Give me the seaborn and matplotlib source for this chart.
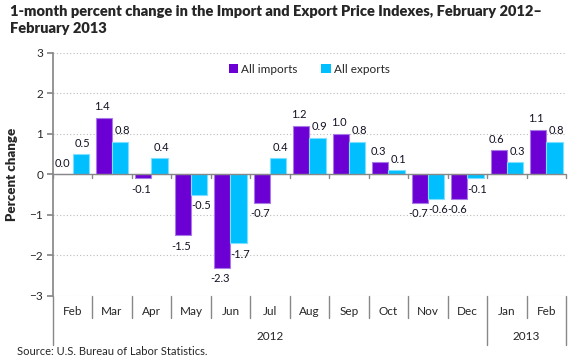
import pandas as pd
import numpy as np
import matplotlib.pyplot as plt
import seaborn as sns

sns.set_theme(style="white")
plt.rcParams['font.family'] = ['Lato', 'DejaVu Sans']

months = ['Feb', 'Mar', 'Apr', 'May', 'Jun', 'Jul', 'Aug', 'Sep', 'Oct', 'Nov', 'Dec', 'Jan', 'Feb']
years = ['2012'] * 11 + ['2013'] * 2
imports = [0.0, 1.4, -0.1, -1.5, -2.3, -0.7, 1.2, 1.0, 0.3, -0.7, -0.6, 0.6, 1.1]
exports = [0.5, 0.8, 0.4, -0.5, -1.7, 0.4, 0.9, 0.8, 0.1, -0.6, -0.1, 0.3, 0.8]

keys = [m + ' ' + y for m, y in zip(months, years)]
df = pd.DataFrame({
    'period': keys * 2,
    'value': imports + exports,
    'series': ['All imports'] * len(keys) + ['All exports'] * len(keys),
})

imp_color = '#6C00D4'
exp_color = '#00BFFF'

fig = plt.figure(figsize=(5.8, 3.6), dpi=100)
ax = fig.add_axes([0.091, 0.178, 0.885, 0.675])

sns.barplot(data=df, x='period', y='value', hue='series', order=keys,
            palette={'All imports': imp_color, 'All exports': exp_color},
            width=0.82, saturation=1, ax=ax, legend=True)

# lighter bar outlines + value labels (nudged apart a little)
for cont, ec, vals, dx in zip(ax.containers, ['#A77BE6', '#7FDFFF'], [imports, exports], [-1.5, 1.5]):
    for p, v in zip(cont, vals):
        p.set_edgecolor(ec)
        p.set_linewidth(0.8)
        xc = p.get_x() + p.get_width() / 2
        ax.annotate(f'{v:.1f}', xy=(xc, v), xytext=(dx, 4 if v >= 0 else -4),
                    textcoords='offset points', ha='center',
                    va='bottom' if v >= 0 else 'top', fontsize=8, color='#111122')

ax.set_ylim(-3, 3)
ax.set_xlim(-0.5, len(keys) - 0.5)
ax.set_yticks(range(-3, 4))
ax.tick_params(axis='y', length=4, color='#888888', labelsize=8.5, pad=3, left=True)
for y in range(-3, 4):
    if y != 0:
        ax.axhline(y, color='#BBBBBB', lw=0.8, ls=(0, (1, 2)), zorder=0)
ax.axhline(0, color='#888888', lw=1.0, zorder=1)

for s in ['top', 'right', 'bottom']:
    ax.spines[s].set_visible(False)
ax.spines['left'].set_color('#888888')

# month labels and separators below the plot
ax.set_xticks(range(len(keys)))
ax.set_xticklabels(months, fontsize=8.5)
ax.tick_params(axis='x', length=0, pad=7)
ax.set_xlabel('')
trans = ax.get_xaxis_transform()
for i in range(len(keys) + 1):
    xpos = i - 0.5
    low = -0.20 if i in (0, 11, 13) else -0.09
    ax.plot([xpos, xpos], [0, low], transform=trans, color='#888888', lw=1.0, clip_on=False)
    ax.plot([xpos, xpos], [0.5, 0.5 - 0.016], transform=trans, color='#888888', lw=1.0, clip_on=False)

ax.text(5, -0.165, '2012', transform=trans, ha='center', va='center', fontsize=8.5)
ax.text(11.5, -0.165, '2013', transform=trans, ha='center', va='center', fontsize=8.5)

ax.set_ylabel('Percent change', fontsize=9.5, fontweight='heavy', labelpad=8)

leg = ax.legend(loc='upper center', bbox_to_anchor=(0.5, 1.0), ncol=2, frameon=False,
                fontsize=8.5, handlelength=0.8, handleheight=0.8, handletextpad=0.3,
                columnspacing=2.0)
for h in leg.legend_handles:
    h.set_edgecolor('none')

fig.text(0.017, 0.985, '1-month percent change in the Import and Export Price Indexes, February 2012–\nFebruary 2013',
         ha='left', va='top', fontsize=10.5, fontweight='heavy', linespacing=1.35)
fig.text(0.03, 0.008, 'Source: U.S. Bureau of Labor Statistics.', fontsize=8, ha='left', va='bottom')

fig.savefig('out.png', dpi=100)
